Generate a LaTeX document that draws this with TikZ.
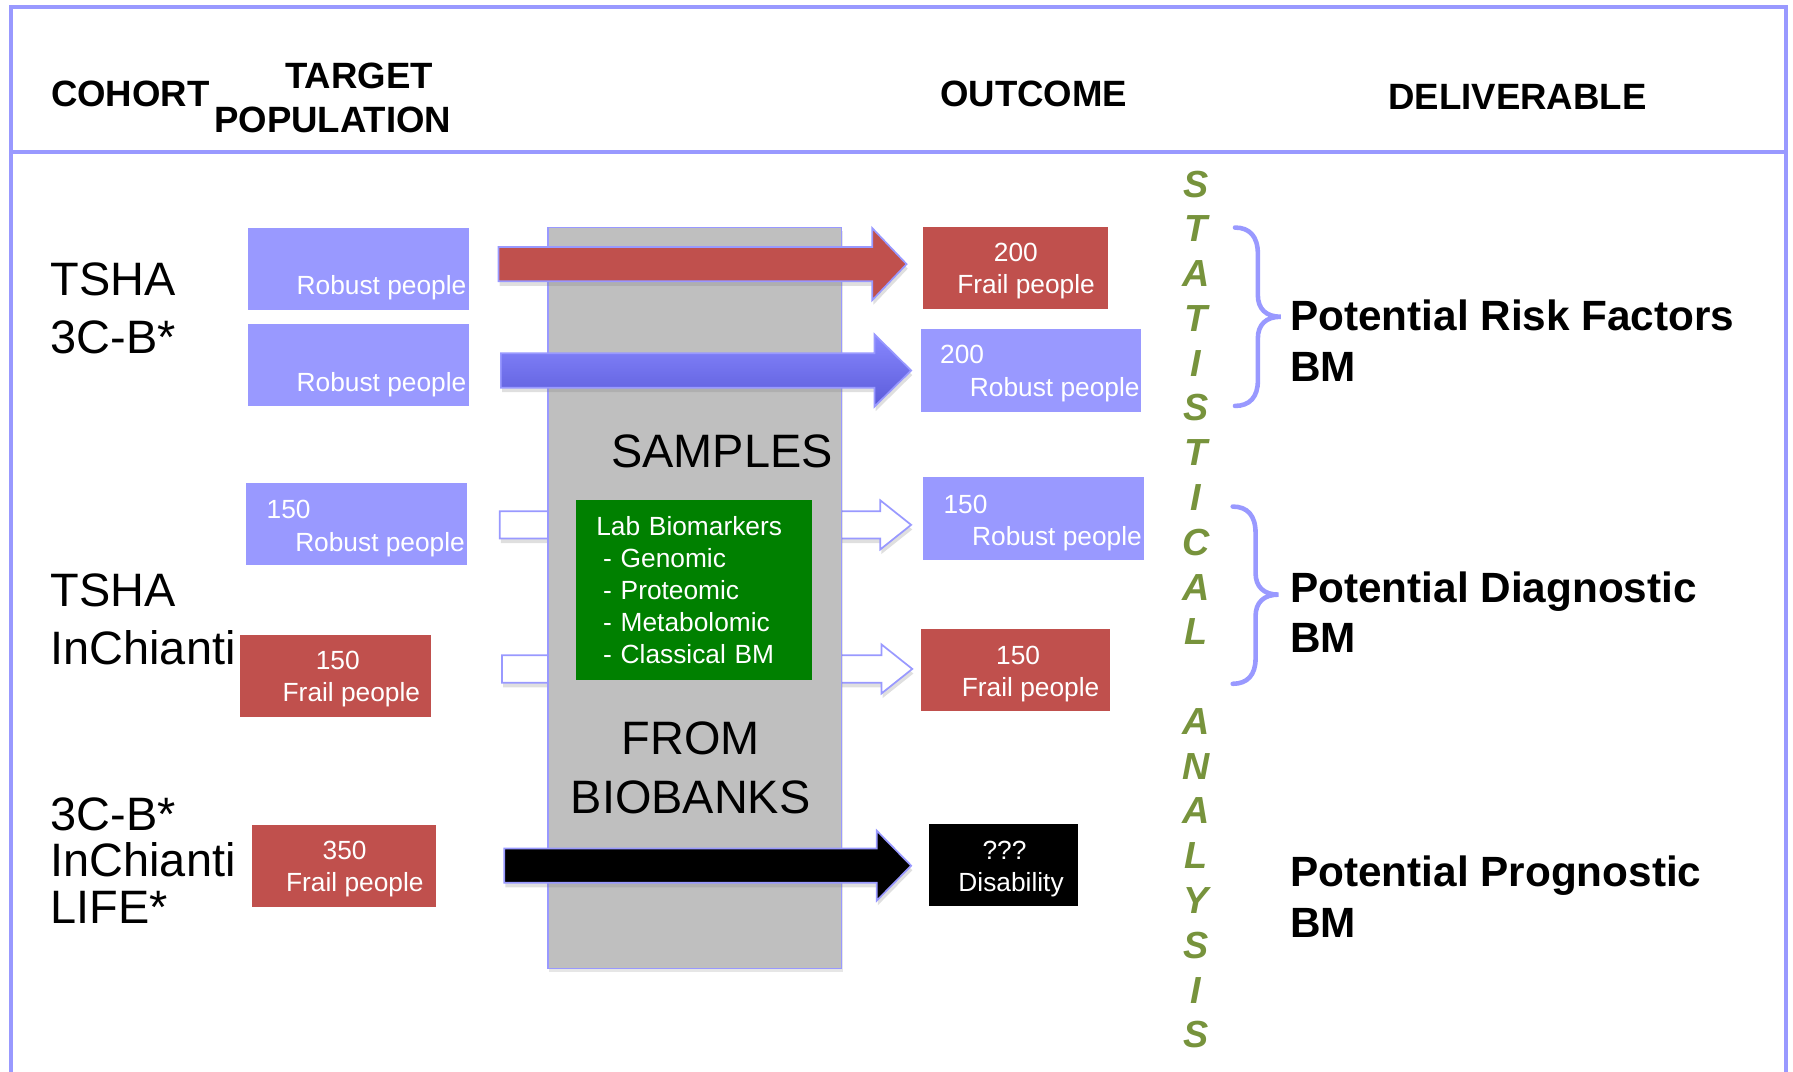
\documentclass[tikz,border=0pt]{standalone}
\usepackage{fontspec}
\setmainfont{Liberation Sans}
\usetikzlibrary{calc,shadows}

\definecolor{robust}{HTML}{9999FF}
\definecolor{frail}{HTML}{C0504D}
\definecolor{biobank}{HTML}{BFBFBF}
\definecolor{labgreen}{HTML}{008000}
\definecolor{stats}{HTML}{77933C}

\tikzset{
	slideframe/.style={draw=robust, line width=3.5pt},
	header/.style={font=\bfseries\fontsize{32}{36}\selectfont, inner sep=0pt},
	cohort/.style={font=\fontsize{41}{51}\selectfont, align=left, anchor=west, inner sep=0pt},
	pop/.style={shape=rectangle, inner sep=0pt, minimum height=72pt},
	robustbox/.style={pop, fill=robust},
	frailbox/.style={pop, fill=frail},
	poptext/.style={text=white, font=\fontsize{23}{28.5}\selectfont, align=left, inner sep=0pt},
	biobox/.style={shape=rectangle, fill=biobank, draw=robust, line width=1.5pt,
		minimum width=257pt, minimum height=648pt,
		drop shadow={opacity=0.2, shadow xshift=1pt, shadow yshift=-3pt}},
	bigtext/.style={font=\fontsize{41}{51}\selectfont, inner sep=0pt},
	labbox/.style={shape=rectangle, fill=labgreen, text=white, align=left, text width=171pt,
		minimum width=206pt, minimum height=158pt, font=\fontsize{23}{28}\selectfont},
	fat/.style={draw=robust, line width=1.5pt,
		drop shadow={opacity=0.25, shadow xshift=1pt, shadow yshift=-4pt}},
	hollow/.style={fat, fill=white},
	brace/.style={draw=robust, line width=4pt, line cap=round},
	stats/.style={text=stats, font=\bfseries\itshape\fontsize{33}{39.16}\selectfont,
		align=center, inner sep=0pt},
	deliver/.style={font=\bfseries\fontsize{37}{44}\selectfont, align=left, anchor=west, inner sep=0pt},
}

% block arrow: style, tail, tip, shaft half height, head half height, head length
\newcommand{\fatarrow}[6]{%
	\path[#1] let \p1=(#2), \p2=(#3) in
		(\x1,\y1+#4) -- (\x2-#6,\y1+#4) -- (\x2-#6,\y1+#5) -- (\x2,\y1)
		-- (\x2-#6,\y1-#5) -- (\x2-#6,\y1-#4) -- (\x1,\y1-#4) -- cycle;}

\begin{document}
\begin{tikzpicture}[x=1pt, y=-1pt]
	\useasboundingbox (0,0) rectangle (1568,937);
	
	\draw[slideframe] (10,960) -- (10,6) -- (1562,6) -- (1562,960);
	\draw[slideframe] (10,133) -- (1562,133);
	
	\node[header] (cohort) at (114, 82) {COHORT};
	\node[header] (target) at (314, 66) {TARGET};
	\node[header] (population) at (291, 105) {POPULATION};
	\node[header] (outcome) at (904, 82) {OUTCOME};
	\node[header] (deliverable) at (1327, 85) {DELIVERABLE};
	
	\node[cohort] (c1) at (44, 269.5) {TSHA\\3C-B*};
	\node[cohort] (c2) at (44, 541.5) {TSHA\\InChianti};
	\node[cohort, font=\fontsize{41}{40.5}\selectfont] (c3) at (44, 752.5) {3C-B*\\InChianti\\LIFE*};
	
	% target population
	\node[robustbox, minimum width=193pt] (r1) at (313.5, 235) {};
	\node[robustbox, minimum width=193pt] (r2) at (313.5, 319) {};
	\node[robustbox, minimum width=193pt] (r3) at (311.5, 458.5) {};
	\node[frailbox, minimum width=167pt] (f1) at (293.5, 591) {};
	\node[frailbox, minimum width=161pt] (f2) at (300.5, 757.5) {};
	
	\node[poptext, anchor=east] (r1txt) at (408, 252) {Robust people};
	\node[poptext, anchor=east] (r2txt) at (408, 336) {Robust people};
	\node[poptext, anchor=west] (r3txt) at (233, 462) {150\\\hspace*{25pt}Robust people};
	\node[poptext, anchor=west] (f1txt) at (247, 594) {\hspace*{29pt}150\\Frail people};
	\node[poptext, anchor=west] (f2txt) at (250, 760) {\hspace*{32pt}350\\Frail people};
	
	% outcome
	\node[frailbox, minimum width=162pt] (o1) at (888, 234.5) {};
	\node[robustbox, minimum width=193pt] (o2) at (901.5, 324) {};
	\node[robustbox, minimum width=193pt] (o3) at (903.5, 453.5) {};
	\node[frailbox, minimum width=166pt] (o4) at (888, 586) {};
	\node[pop, fill=black, minimum width=131pt] (o5) at (877.5, 756.5) {};
	
	\node[poptext, anchor=west] (o1txt) at (837, 237) {\hspace*{32pt}200\\Frail people};
	\node[poptext, anchor=west] (o2txt) at (822, 326.5) {200\\\hspace*{26pt}Robust people};
	\node[poptext, anchor=west] (o3txt) at (825, 457.5) {150\\\hspace*{25pt}Robust people};
	\node[poptext, anchor=west] (o4txt) at (841, 589.5) {\hspace*{30pt}150\\Frail people};
	\node[poptext, anchor=west] (o5txt) at (838, 760) {\hspace*{21pt}???\\Disability};
	
	% arrow tails and tips
	\coordinate (a1) at (436, 231);
	\coordinate (b1) at ($(o1.west)+(-14,0)$);
	\coordinate (a2) at (438, 324);
	\coordinate (b2) at ($(o2.west)+(-8,0)$);
	\coordinate (a3) at (437, 459);
	\coordinate (b3) at ($(o3.west)+(-10,0)$);
	\coordinate (a4) at (439, 585);
	\coordinate (b4) at ($(o4.west)+(-7,0)$);
	\coordinate (a5) at (441, 757);
	\coordinate (b5) at ($(o5.west)+(-15,0)$);
	
	\fatarrow{hollow}{a3}{b3}{12pt}{21.5pt}{27pt}
	\fatarrow{hollow}{a4}{b4}{12pt}{21.5pt}{27pt}
	
	\node[biobox] (samples) at (607.5, 523) {};
	\node[bigtext] (samplestxt) at (631.5, 395) {SAMPLES};
	\node[bigtext, align=center] (frombb) at (604, 671.5) {FROM\\BIOBANKS};
	
	\node[labbox] (lab) at (607, 516) {Lab Biomarkers\\\hspace*{6pt}- Genomic\\\hspace*{6pt}- Proteomic\\\hspace*{6pt}- Metabolomic\\\hspace*{6pt}- Classical BM};
	
	\fatarrow{fat, fill=frail}{a1}{b1}{15pt}{31.5pt}{30pt}
	\fatarrow{fat, top color=robust!80!blue!90!white, bottom color=robust!70!blue!85!black}{a2}{b2}{15pt}{31.5pt}{32pt}
	\fatarrow{fat, fill=black}{a5}{b5}{15pt}{30.5pt}{30pt}
	
	% statistical analysis and deliverables
	\node[stats] (analysis) at (1046, 533) {S\\T\\A\\T\\I\\S\\T\\I\\C\\A\\L\\~\\A\\N\\A\\L\\Y\\S\\I\\S};
	
	\draw[brace] (1080,199) .. controls (1093,199) and (1100,207) .. (1100,222) -- (1100,258)
		.. controls (1100,270) and (1107,277) .. (1120,277)
		.. controls (1107,277) and (1100,284) .. (1100,296) -- (1100,333)
		.. controls (1100,347) and (1093,355) .. (1080,355);
	\draw[brace] (1078,443) .. controls (1091,443) and (1098,451) .. (1098,466) -- (1098,501)
		.. controls (1098,513) and (1105,520) .. (1118,520)
		.. controls (1105,520) and (1098,527) .. (1098,539) -- (1098,576)
		.. controls (1098,590) and (1091,598) .. (1078,598);
	
	\node[deliver] (risk) at (1128, 298) {Potential Risk Factors\\BM};
	\node[deliver] (diag) at (1128, 535.5) {Potential Diagnostic\\BM};
	\node[deliver] (prog) at (1128, 784) {Potential Prognostic\\BM};
	
\end{tikzpicture}
\end{document}
